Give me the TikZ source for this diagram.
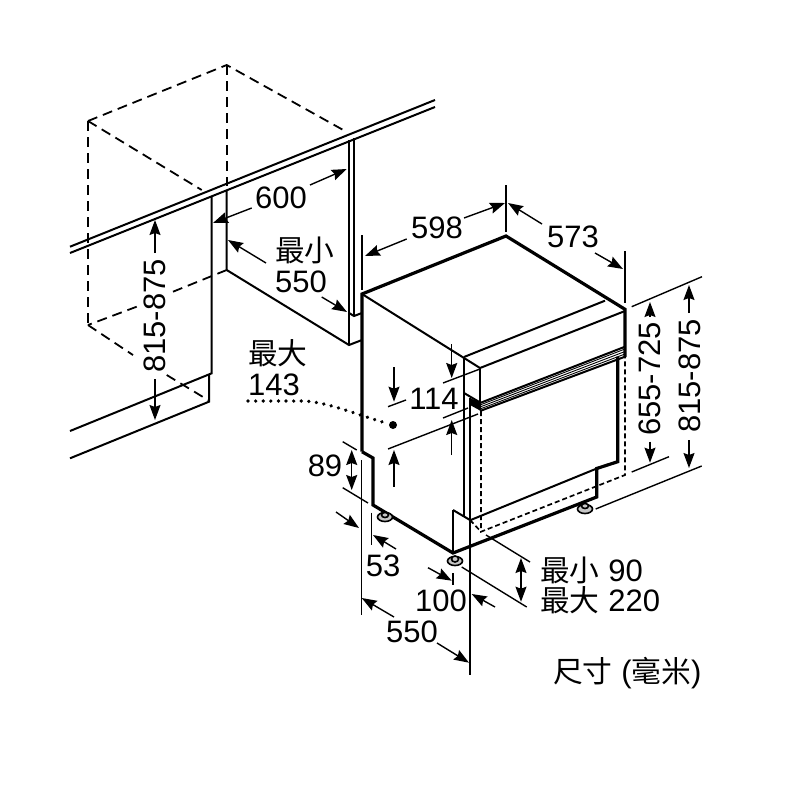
\documentclass[tikz,border=0pt]{standalone}
\usepackage{fontspec}
\setmainfont{Liberation Sans}
\newfontfamily\cjk[Scale = 0.96]{Noto Sans CJK TC}
\usetikzlibrary{arrows.meta}
\newcommand{\zh}[1]{{\cjk #1}}
\tikzset{
    dimline/.style = {line width = 1.4pt},
    dimarrow/.style = {line width = 1.4pt, -{Stealth[length = 15pt, width = 11pt, inset = 2pt]}},
    dimboth/.style = {line width = 1.4pt, {Stealth[length = 15pt, width = 11pt, inset = 2pt]}-{Stealth[length = 15pt, width = 11pt, inset = 2pt]}},
    bodyline/.style = {line width = 3.2pt, line join = miter},
    edgeline/.style = {line width = 2pt},
    cabdash/.style = {line width = 1.8pt, dash pattern = on 10pt off 6pt},
    doordash/.style = {line width = 1.7pt, dash pattern = on 5pt off 3pt},
    dimtext/.style = {font = \fontsize{31}{35}\selectfont, inner sep = 0pt},
    footpart/.style = {line width = 1.6pt, fill = gray!45}
}
\begin{document}
\begin{tikzpicture}[x = 1pt, y = -1pt]
    \useasboundingbox (0,0) rectangle (800,800);
    \begin{scope}[style = cabdash]
        \draw (88,121) -- (226.7,65) -- (345,131);
        \draw (88,121) -- (201.7,190);
        \draw (226.7,65) -- (226.7,186);
        \draw (88,121) -- (88,325);
        \draw (226.7,270) -- (173,291.7);
        \draw (136.7,306.7) -- (88,325);
        \draw (88,325) -- (133,355);
        \draw (166.7,375) -- (208,400);
    \end{scope}
    \begin{scope}[style = edgeline]
        \draw (70,246.7) -- (435,100);
        \draw (70,253) -- (435,107);
        \draw (211.7,196.7) -- (211.7,373.3) -- (70,431);
        \draw (209,374) -- (209,401.7) -- (70,458.3);
        \draw (226.7,190) -- (226.7,270) -- (349,345) -- (362,340);
        \draw (349,140) -- (349,345);
        \draw (354,138) -- (354,316);
        \draw (349,313) -- (354,316) -- (362,313);
    \end{scope}
    \begin{scope}[style = edgeline]
        \draw (362,294) -- (480,368) -- (625,311);
        \draw (464,357) -- (605,300.7);
        \draw (480,368) -- (480,403);
        \draw (464,357) -- (464,517);
        \draw (470,398) -- (470,520);
        \draw (464,393) -- (481,403);
        \draw (470.7,520) -- (598,468);
        \draw (453,510) -- (470,520);
        \draw (453,510) -- (453,553);
        \draw (480,403) -- (625,346.7);
        \draw (480,411) -- (625,356.7);
        \draw[line width = 0.9pt] (480,405) -- (625,349);
        \draw[line width = 0.9pt] (480,407) -- (625,351.5);
        \draw[line width = 0.9pt] (480,409) -- (625,354);
    \end{scope}
    \fill (470,398) -- (481,403) -- (481,411) -- (470,405) -- cycle;
    \begin{scope}[style = bodyline]
        \draw (362,451.7) -- (362,294) -- (506,236) -- (625,309.3) -- (625,357);
        \draw (362,451.7) -- (373,458) -- (373,505) -- (453,553) -- (596.7,497) -- (596.7,468.5) -- (617.7,461.7) -- (617.7,356.7);
    \end{scope}
    \begin{scope}[style = doordash]
        \draw (481,411) -- (481,531.7) -- (625,475) -- (625,357);
        \draw (470,520) -- (481,531.7);
    \end{scope}
    \draw[footpart] (385,517) ellipse[x radius = 7.5, y radius = 4.5];
    \draw[footpart] (385,515) ellipse[x radius = 3.5, y radius = 2.5];
    \draw[footpart] (455,561) ellipse[x radius = 7.5, y radius = 4.5];
    \draw[footpart] (455,559) ellipse[x radius = 3.5, y radius = 3];
    \draw[footpart] (585,509) ellipse[x radius = 7.5, y radius = 4.5];
    \draw[footpart] (585,506) ellipse[x radius = 3.5, y radius = 2.5];
    \begin{scope}[style = dimline]
        \draw (362,235) -- (362,290);
        \draw (506,185) -- (506,232);
        \draw (625,251) -- (625,303);
        \draw (631.7,306.7) -- (702,276.7);
        \draw (631.7,472) -- (669,456.7);
        \draw (595.7,509) -- (701.7,466);
        \draw (388,406.7) -- (406,400);
        \draw (443,383) -- (480,369);
        \draw (443,418) -- (468,408);
        \draw (388,449) -- (478,414);
        \draw (342.7,441.7) -- (356.7,450);
        \draw (342.7,487.7) -- (368,503);
        \draw (361.5,460) -- (361.5,615);
        \draw (371.7,512.7) -- (371.7,545);
        \draw (453,573) -- (453,585);
        \draw (470,520) -- (470,675);
        \draw (486,535) -- (530,562);
        \draw (461.7,567) -- (526.7,607);
    \end{scope}
    \begin{scope}[style = dimarrow]
        \draw (251.7,208) -- (213,223);
        \draw (310,185) -- (346.7,169);
        \draw (266,263) -- (228,240);
        \draw (321.7,297) -- (347,312);
        \draw (155,253) -- (155,220);
        \draw (155,379) -- (155,420);
        \draw (406.7,239) -- (365,256);
        \draw (464,218) -- (505,203);
        \draw (542,224) -- (508,203);
        \draw (595,253) -- (623,269);
        \draw (650,317) -- (650,302);
        \draw (650,441.7) -- (650,462.7);
        \draw (689,313) -- (689,285);
        \draw (689,440) -- (689,468);
        \draw (394,367) -- (394,401.7);
        \draw (451.7,344) -- (451.7,378);
        \draw (451.7,455) -- (451.7,420);
        \draw (394,486.7) -- (394,450);
        \draw (396,549) -- (373,535);
        \draw (336,512) -- (359,528);
        \draw (428,567.7) -- (451.7,580.7);
        \draw (495,607) -- (471.7,594);
        \draw (394,617) -- (361.7,598);
        \draw (437,643) -- (469,662.7);
    \end{scope}
    \draw[dimboth] (351.7,450) -- (351.7,490);
    \draw[dimboth] (521,558) -- (521,601.7);
    \draw[line width = 3.6pt, line cap = round, dash pattern = on 0.1pt off 7.5pt] (248,401) -- (305,401) .. controls (330,403) and (355,414) .. (386,423);
    \fill (393,425) circle[radius = 4];
    \begin{scope}[every node/.append style = {dimtext}]
        \node (width600) at (281,198) {600};
        \node[anchor = west] (min550a) at (275,250) {\zh{最小}};
        \node[anchor = west] (min550b) at (275,282) {550};
        \node[rotate = 90] (height815a) at (155,316) {815-875};
        \node[anchor = west] (max143a) at (248,353) {\zh{最大}};
        \node[anchor = west] (max143b) at (248,385) {143};
        \node (width598) at (437,228) {598};
        \node (depth573) at (573,237) {573};
        \node[rotate = 90] (height655) at (650,379) {655-725};
        \node[rotate = 90] (height815b) at (690,376) {815-875};
        \node (door114) at (434,399) {114};
        \node (plinth89) at (325,466) {89};
        \node (foot53) at (383,566) {53};
        \node (foot100) at (441,601) {100};
        \node (depth550) at (412,632) {550};
        \node[anchor = west] (gap90) at (540,570) {\zh{最小} 90};
        \node[anchor = west] (gap220) at (540,600) {\zh{最大} 220};
        \node[anchor = west] (unitlabel) at (553,673) {\zh{尺寸} (\zh{毫米})};
    \end{scope}
\end{tikzpicture}
\end{document}
